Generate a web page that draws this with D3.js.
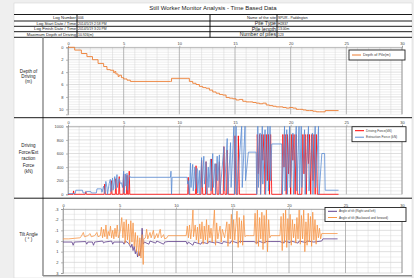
<!DOCTYPE html>
<html>
<head>
<meta charset="utf-8">
<script src="https://cdn.jsdelivr.net/npm/d3@7"></script>
<style>
  body { margin: 0; background: #efefef; }
  svg { display: block; }
  text { font-family: "Liberation Sans", Arial, sans-serif; }
</style>
</head>
<body>
<script>
// ---- header table ----
var leftLabels = ["Log Number", "Log Start Date / Time", "Log Finish Date / Time", "Maximum Depth of Driving"];
var leftValues = ["006", "2014/5/19 2:58 PM", "2014/5/19 3:20 PM", "10.926(m)"];
var rightLabels = ["Name of the site", "Pile Type", "Pile length", "Number of piles"];
var rightValues = ["SPUR - Paddington", "H2837", "13.00m", "123"];

// ---- shared x ticks (time) ----
var xTicks = [0, 5, 10, 15, 20, 25, 30];

// ---- depth of pile ----
var depthTicks = [0, 2, 4, 6, 8, 10];
var depthTime = [0, 0.6, 1.2, 1.7, 2.2, 2.7, 3.2, 3.5, 3.8, 4.1, 4.2, 4.3, 4.5, 4.6, 4.8, 5.0, 5.3, 5.6, 9.2, 9.3,
  10.7, 10.9, 11.2, 11.5, 11.8, 12.1, 12.4, 12.7, 13.0, 13.3, 13.6, 13.9, 14.2, 14.5, 14.8, 15.1, 15.4, 15.7, 16.0,
  16.3, 16.6, 16.9, 17.2, 17.5, 17.8, 18.1, 18.4, 18.7, 19.0, 19.3, 19.6, 19.9, 20.2, 20.5, 20.8, 21.1, 21.4, 21.7,
  22.0, 22.3, 22.6, 22.9, 23.1, 24.3];
var depthValue = [0, 0.45, 1.0, 1.5, 2.0, 2.6, 3.1, 3.6, 3.7, 4.1, 3.9, 4.3, 4.7, 4.5, 4.9, 5.1, 5.3, 5.5, 5.5, 5.0,
  5.0, 5.5, 5.8, 6.0, 6.3, 6.5, 6.6, 6.9, 7.2, 7.4, 7.6, 7.7, 8.1, 8.2, 8.3, 8.5, 8.4, 8.7, 8.8,
  8.8, 8.9, 9.0, 9.1, 9.0, 9.3, 9.4, 9.5, 9.6, 9.6, 9.7, 9.8, 9.7, 9.8, 10.0, 10.0, 10.1, 10.2, 10.2,
  10.3, 10.4, 10.4, 10.4, 10.2, 10.2];

// ---- driving / extraction force ----
var forceTicks = [0, 200, 400, 600, 800, 1000];
var drivingTime = [0, 0.45, 0.5, 0.55, 1.55, 1.6, 1.65, 3.25, 3.3, 3.35, 3.85, 3.9, 3.95, 4.25, 4.3, 4.35, 4.55, 4.6,
  4.65, 4.95, 5.0, 5.05, 5.25, 5.3, 5.35, 5.45, 5.5, 5.55, 10.75, 10.8, 10.85, 11.45, 11.5, 11.55, 11.95, 12.0, 12.1,
  12.35, 12.4, 12.5, 12.85, 12.9, 13.0, 13.25, 13.3, 13.4, 13.55, 13.6, 13.7, 13.95, 14.0, 14.1, 14.25, 14.3, 14.4,
  14.95, 15.0, 15.1, 15.25, 15.3, 15.4, 16.95, 17.0, 17.1, 17.2, 17.3, 17.4, 17.5, 17.6, 17.7, 17.8, 17.9, 18.0,
  18.1, 18.2, 18.3, 19.2, 19.3, 19.4, 19.5, 19.6, 19.7, 19.8, 19.9, 20.0, 20.1, 20.2, 20.3, 20.4, 20.5, 20.6, 21.0,
  21.1, 21.2, 21.3, 21.4, 21.5, 21.6, 21.7, 21.8, 21.9, 22.0, 22.1, 22.2, 22.3, 22.4, 24.3];
var drivingForce = [0, 0, 50, 0, 0, 40, 0, 0, 150, 0, 0, 200, 0, 0, 230, 0, 0, 260,
  0, 0, 300, 0, 0, 280, 0, 0, 340, 0, 0, 250, 0, 0, 420, 0, 0, 500, 0,
  0, 480, 0, 0, 520, 0, 0, 450, 0, 0, 480, 0, 0, 700, 0, 0, 650, 0,
  0, 860, 0, 0, 860, 0, 0, 880, 300, 880, 0, 880, 500, 880, 0, 880, 200, 880,
  0, 880, 0, 0, 880, 400, 880, 0, 880, 300, 880, 0, 880, 500, 880, 0, 880, 0, 0,
  880, 300, 880, 0, 880, 450, 880, 0, 880, 200, 880, 0, 880, 0, 0];
var extractionTime = [0, 0.65, 0.7, 1.3, 1.35, 1.6, 1.65, 2.05, 2.1, 2.55, 2.6, 3.0, 3.05, 3.2, 3.3, 3.4, 3.5, 3.55,
  3.7, 3.8, 3.85, 4.0, 4.05, 4.2, 4.25, 4.4, 4.45, 4.6, 4.7, 4.8, 4.9, 5.0, 5.05, 5.15, 5.2, 5.3, 5.35, 5.5, 5.6,
  9.2, 9.25, 9.3, 9.35, 10.7, 10.75, 10.8, 10.9, 11.0, 11.05, 11.2, 11.25, 11.4, 11.45, 11.6, 11.65, 11.8, 11.85,
  12.0, 12.05, 12.2, 12.25, 12.4, 12.45, 12.6, 12.65, 12.8, 12.85, 13.0, 13.05, 13.2, 13.25, 13.4, 13.45, 13.6,
  13.65, 14.0, 14.05, 14.3, 14.35, 14.6, 14.65, 14.9, 14.95, 15.1, 15.15, 15.6, 15.65, 15.9, 15.95, 16.2, 16.9,
  16.95, 17.05, 17.1, 17.25, 17.3, 17.45, 17.5, 17.7, 17.75, 17.95, 18.0, 18.15, 18.2, 18.3, 19.2, 19.25, 19.45,
  19.5, 19.65, 19.7, 19.9, 19.95, 20.2, 20.25, 20.5, 20.55, 20.75, 20.8, 20.95, 21.0, 21.25, 21.3, 21.6, 21.65,
  21.95, 22.0, 22.2, 22.25, 22.5, 22.55, 22.8, 23.05, 23.1, 24.3];
var extractionForce = [10, 10, 60, 60, 20, 20, 40, 40, 20, 20, 80, 80, 30, 120, 10, 190, 100, 0,
  160, 220, 40, 240, 60, 260, 80, 290, 100, 230, 160, 170, 100, 340, 20, 300, 120, 310, 60, 280, 250,
  250, 340, 0, 250, 250, 150, 200, 0, 460, 100, 440, 50, 400, 80, 380, 20, 350, 0,
  540, 100, 560, 150, 480, 0, 400, 100, 520, 50, 600, 100, 450, 0, 560, 200, 580,
  0, 700, 50, 820, 0, 760, 100, 1000, 0, 1000, 0, 1000, 100, 1000, 200, 620, 620,
  0, 1000, 100, 900, 0, 1000, 150, 950, 0, 1000, 50, 1000, 200, 740, 740, 0, 1000,
  50, 950, 0, 1000, 100, 900, 0, 1000, 50, 1000, 0, 1000, 100, 950, 0, 1000, 50,
  900, 0, 1000, 100, 1000, 0, 600, 600, 60, 60];

// ---- tilt angle ----
var tiltTicks = [-3, -2, -1, 0, 1, 2, 3];
var tiltLRTime = [0, 0.8, 0.9, 1.0, 2.0, 2.1, 2.2, 2.6, 2.7, 2.8, 3.5, 3.6, 3.7, 4.3, 4.4, 4.5, 5.3, 5.4, 5.5, 5.8,
  6.0, 6.1, 6.2, 6.3, 6.4, 6.5, 6.6, 6.7, 6.8, 6.9, 7.0, 7.1, 7.2, 7.6, 7.7, 8.2, 8.3, 8.9, 9.0, 9.3, 10.9, 11.0,
  11.1, 11.5, 11.6, 12.2, 12.3, 12.8, 12.9, 13.5, 13.6, 14.1, 14.2, 14.8, 14.9, 15.5, 15.6, 16.2, 16.9, 17.2, 17.3,
  17.8, 17.9, 18.4, 19.2, 19.5, 19.6, 20.1, 20.2, 20.8, 20.9, 21.5, 21.6, 22.2, 22.9, 23.0, 24.3];
var tiltLR = [0.1, 0.1, 0.4, 0.1, 0.05, 0.3, 0.1, 0.1, 0.4, 0.1, 0.0, 0.2, 0.1, 0.0, 0.3, 0.1, 0.1, 0.3, 0.0, 0.2,
  0.6, 0.3, 0.9, 0.5, 1.2, 0.8, 1.5, 1.0, 1.4, 0.6, -1.2, 0.3, 0.1, 0.3, 0.0, 0.2, 0.0, 0.3, 0.1, 0.05, 0.05, 0.3,
  0.1, 0.4, 0.1, 0.3, 0.1, 0.25, 0.05, 0.2, 0.1, 0.25, 0.05, 0.2, 0.0, 0.2, 0.05, 0.05, 0.05, 0.2, 0.0,
  0.2, 0.05, 0.05, 0.05, 0.2, 0.0, 0.15, 0.0, 0.2, 0.0, 0.15, 0.0, 0.1, 0.0, -0.2, -0.2];
var tiltFBTime = [0, 0.5, 1.0, 1.5, 1.6, 1.8, 1.9, 2.2, 2.4, 2.5, 2.8, 3.0, 3.1, 3.3, 3.4, 3.5, 3.6, 3.7, 3.8, 3.9,
  4.0, 4.1, 4.2, 4.3, 4.4, 4.5, 4.6, 4.7, 4.8, 4.9, 5.0, 5.1, 5.2, 5.3, 5.4, 5.5, 5.6, 5.7, 5.8, 5.9, 6.0, 6.1, 6.2,
  6.3, 6.4, 6.5, 6.6, 6.7, 6.8, 6.9, 7.0, 7.1, 7.15, 7.3, 7.4, 7.5, 7.7, 7.8, 8.0, 8.1, 8.3, 8.4, 8.6, 8.7, 8.9,
  9.0, 9.2, 9.3, 10.9, 11.0, 11.1, 11.2, 11.3, 11.4, 11.5, 11.55, 11.7, 11.8, 11.9, 12.0, 12.1, 12.2, 12.3, 12.4,
  12.5, 12.6, 12.7, 12.8, 12.9, 13.0, 13.1, 13.2, 13.4, 13.5, 13.6, 13.7, 13.9, 14.0, 14.1, 14.3, 14.5, 14.6, 14.7,
  14.8, 14.9, 15.0, 15.1, 15.2, 15.4, 15.5, 15.6, 15.7, 15.8, 15.9, 16.0, 16.1, 16.2, 16.5, 16.9, 17.0, 17.1, 17.2,
  17.3, 17.4, 17.5, 17.6, 17.7, 17.8, 17.9, 18.0, 18.1, 18.2, 18.3, 18.4, 19.2, 19.3, 19.4, 19.5, 19.6, 19.7, 19.8,
  19.9, 20.0, 20.1, 20.2, 20.3, 20.4, 20.5, 20.6, 20.7, 20.8, 20.9, 21.0, 21.1, 21.2, 21.3, 21.4, 21.5, 21.6, 21.7,
  21.8, 21.9, 22.0, 22.1, 22.2, 22.3, 22.4, 22.5, 22.6, 22.7, 22.8, 22.9, 24.3];
var tiltFB = [-0.2, -0.2, -0.25, -0.3, -0.4, -0.8, -0.4, -0.5, -0.7, -0.4, -0.5, -0.8, -0.4, -0.5, -1.3, -0.3, -1.1,
  -0.4, -1.5, -0.2, -0.9, -0.5, -1.4, -0.3, -1.0, -0.2, -1.2, -0.4, -1.5, -0.3, -0.6, -1.2, -2.2, -0.3, -1.8, 0.2,
  -2.0, -0.1, -1.6, 0.3, -1.9, 0.1, -1.7, 0.5, -0.8, 1.0, -0.5, 1.4, -0.3, 1.6, -0.6, 2.2, -0.2, -0.3, -1.1, -0.2,
  -0.8, -0.3, -1.0, -0.2, -0.7, -0.3, -1.1, -0.3, -0.6, -0.2, -0.3, -0.5, -0.5, -1.4, -0.3, -1.5, -0.2, -1.2, -2.9,
  -0.4, -1.5, -0.1, -1.3, 0.2, -1.6, -0.2, -1.8, 0.3, -1.4, -0.1, -2.0, 0.2, -1.5, -0.3, -1.2, 0.1, -2.9, 0.4, -1.7,
  -0.2, -1.4, 0.1, -1.1, -0.3, -1.8, 0.5, -1.6, -0.2, -2.5, 0.3, -2.0, -0.1, -2.8, 0.6, -2.2, 0.2, -1.9, 0.4, -2.4,
  -0.4, -0.5, -0.5, -0.5, -2.6, 0.3, -2.9, 0.5, -2.2, -0.2, -2.7, 0.8, -2.4, 0.2, -2.9, 1.0, -2.0, -0.3, -0.5, -0.5,
  -2.3, 0.9, -2.6, 0.2, -2.9, 0.6, -2.1, -0.1, -2.5, 0.4, -2.0, -0.3, -1.6, 0.2, -2.2, -0.2, -2.9, 0.3, -2.4, -0.2,
  -2.9, 1.0, -1.8, 0.4, -2.6, 0.1, -2.3, 0.5, -2.7, -0.1, -2.0, 0.3, -1.5, -0.3, -1.2, -0.2, -0.7, -0.7];

var panelLabels = [["Depth of", "Driving", "(m)"], ["Driving", "Force/Ext", "raction", "Force", "(kN)"], ["Tilt Angle", "( \u00b0 )"]];

var W = 414, H = 278;
var svg = d3.select("body").append("svg").attr("width", W).attr("height", H);

// page
svg.append("rect").attr("x", 14).attr("y", 3).attr("width", 398).attr("height", 275)
    .attr("fill", "#fff").attr("stroke", "#d0d0d0").attr("stroke-width", 0.5);

svg.append("text").attr("x", 213).attr("y", 10).attr("text-anchor", "middle")
    .style("font-size", "6px").attr("fill", "#222").text("Still Worker Monitor Analysis - Time Based Data");

// header table
var rowLines = [14.5, 21, 26.3, 31.7, 37.3];
svg.selectAll(".rowline").data(rowLines).enter().append("line")
    .attr("x1", 14).attr("x2", 412).attr("y1", d => d).attr("y2", d => d)
    .attr("stroke", "#000").attr("stroke-width", 0.9);
[77, 210, 277].forEach(function (cx) {
    svg.append("line").attr("x1", cx).attr("x2", cx).attr("y1", rowLines[0]).attr("y2", rowLines[4])
        .attr("stroke", "#000").attr("stroke-width", 0.9);
});
leftLabels.forEach(function (l, i) {
    var cy = (rowLines[i] + rowLines[i + 1]) / 2 + 1.4;
    svg.append("text").attr("x", 76).attr("y", cy).attr("text-anchor", "end")
        .style("font-size", "4.2px").attr("fill", "#222").text(l);
    svg.append("text").attr("x", 78).attr("y", cy - 0.2)
        .style("font-size", "3.4px").attr("fill", "#222").text(leftValues[i]);
});
rightLabels.forEach(function (l, i) {
    var cy = (rowLines[i] + rowLines[i + 1]) / 2 + (i == 0 ? 1.3 : 1.7);
    svg.append("text").attr("x", 276).attr("y", cy).attr("text-anchor", "end")
        .style("font-size", i == 0 ? "4px" : "5.2px").attr("fill", "#222").text(l);
    svg.append("text").attr("x", 278).attr("y", cy - 0.3)
        .style("font-size", "3.4px").attr("fill", "#222").text(rightValues[i]);
});

// panel frame
svg.append("line").attr("x1", 43).attr("x2", 43).attr("y1", 37.3).attr("y2", 276)
    .attr("stroke", "#7f7f7f").attr("stroke-width", 1.3);
[117.7, 198.2].forEach(function (yy) {
    svg.append("line").attr("x1", 14).attr("x2", 412).attr("y1", yy).attr("y2", yy)
        .attr("stroke", "#000").attr("stroke-width", 0.9);
});
svg.append("line").attr("x1", 43).attr("x2", 412).attr("y1", 275.8).attr("y2", 275.8)
    .attr("stroke", "#8c8c8c").attr("stroke-width", 1.4);

var labelCenters = [76.5, 158.5, 236.5], labelStep = [5, 6.4, 5.2];
panelLabels.forEach(function (lines, p) {
    var y0 = labelCenters[p] - (lines.length - 1) * labelStep[p] / 2;
    lines.forEach(function (t, i) {
        svg.append("text").attr("x", 28.5).attr("y", y0 + i * labelStep[p] + 1.6).attr("text-anchor", "middle")
            .style("font-size", "4.6px").attr("fill", "#222").text(t);
    });
});

function Panel(o) {
    var x = d3.scaleLinear().domain([0, 30]).range([o.left, 402]);
    var y = d3.scaleLinear().domain(o.yDomain).range(o.yRange);
    var g = svg.append("g");
    var top = Math.min(o.yRange[0], o.yRange[1]), bottom = Math.max(o.yRange[0], o.yRange[1]);

    // horizontal grid
    g.selectAll(".hgrid").data(o.hGrid).enter().append("line")
        .attr("x1", o.left).attr("x2", 402).attr("y1", d => y(d)).attr("y2", d => y(d))
        .attr("stroke", d => o.yTicks.indexOf(+d.toFixed(2)) >= 0 ? "#bfbfbf" : "#dcdcdc")
        .attr("stroke-width", 0.5);
    // vertical grid
    g.selectAll(".vgrid").data(d3.range(0, 31)).enter().append("line")
        .attr("x1", d => x(d)).attr("x2", d => x(d)).attr("y1", top).attr("y2", bottom)
        .attr("stroke", d => d % 5 == 0 ? "#a6a6a6" : "#d4d4d4")
        .attr("stroke-width", d => d % 5 == 0 ? 0.8 : 0.5);

    var xa = g.append("g").attr("transform", "translate(0," + top + ")")
        .call(d3.axisTop(x).tickValues(xTicks).tickFormat(d => d).tickSize(1.5).tickPadding(1));
    var ya = g.append("g").attr("transform", "translate(" + o.left + ",0)")
        .call(d3.axisLeft(y).tickValues(o.yTicks).tickFormat(d => d).tickSize(2).tickPadding(2.5));
    [xa, ya].forEach(function (a) {
        a.selectAll("text").style("font-size", "4px").attr("fill", "#404040")
            .style("font-family", "Liberation Sans, Arial, sans-serif");
        a.selectAll("path,line").attr("stroke", "#8c8c8c").attr("stroke-width", 0.6);
    });
    g.append("line").attr("x1", 402).attr("x2", 402).attr("y1", top).attr("y2", bottom)
        .attr("stroke", "#a6a6a6").attr("stroke-width", 0.8);

    o.series.forEach(function (s) {
        var pts = s.t.map((t, i) => [t, s.v[i]]);
        g.append("path").datum(pts)
            .attr("fill", "none").attr("stroke", s.color).attr("stroke-width", s.width || 0.8)
            .attr("stroke-linejoin", "miter")
            .attr("d", d3.line().x(d => x(d[0])).y(d => y(d[1])).curve(s.curve || d3.curveLinear));
    });

    // legend
    var L = o.legend;
    g.append("rect").attr("x", L.x).attr("y", L.y).attr("width", L.w).attr("height", L.h)
        .attr("fill", "#fff").attr("stroke", "#222").attr("stroke-width", 0.9);
    o.series.forEach(function (s, i) {
        var ly = L.y + L.pad + i * L.step;
        g.append("line").attr("x1", L.x + 3).attr("x2", L.x + 12).attr("y1", ly).attr("y2", ly)
            .attr("stroke", s.color).attr("stroke-width", 1);
        g.append("text").attr("x", L.x + 14).attr("y", ly + 1.1)
            .style("font-size", L.font + "px").attr("fill", "#404040").text(s.name);
    });
}

Panel({
    left: 68, yDomain: [0, 10.8], yRange: [47.3, 114.3], yTicks: depthTicks,
    hGrid: d3.range(0, 10.81, 0.4),
    series: [{ t: depthTime, v: depthValue, color: "#ed7d31", name: "Depth of Pile(m)", curve: d3.curveStepAfter, width: 0.9 }],
    legend: { x: 349, y: 50, w: 56, h: 10, pad: 5, step: 0, font: 3.8 }
});

Panel({
    left: 68, yDomain: [0, 1000], yRange: [194.3, 126.3], yTicks: forceTicks,
    hGrid: d3.range(0, 1001, 50),
    series: [
        { t: drivingTime, v: drivingForce, color: "#ff0000", name: "Driving Force(kN)" },
        { t: extractionTime, v: extractionForce, color: "#5b8bd3", name: "Extraction Force (kN)" }
    ],
    legend: { x: 352, y: 126.7, w: 54, h: 15, pad: 4, step: 6.5, font: 3.3 }
});

Panel({
    left: 63, yDomain: [-3, 3], yRange: [209, 273], yTicks: tiltTicks,
    hGrid: d3.range(-3, 3.01, 0.5),
    series: [
        { t: tiltLRTime, v: tiltLR, color: "#5f3f8c", name: "Angle of tilt (Right and left)" },
        { t: tiltFBTime, v: tiltFB, color: "#f79646", name: "Angle of tilt (Backward and forward)" }
    ],
    legend: { x: 325, y: 207.5, w: 81, h: 14, pad: 3.8, step: 6.2, font: 3.1 }
});
</script>
</body>
</html>
